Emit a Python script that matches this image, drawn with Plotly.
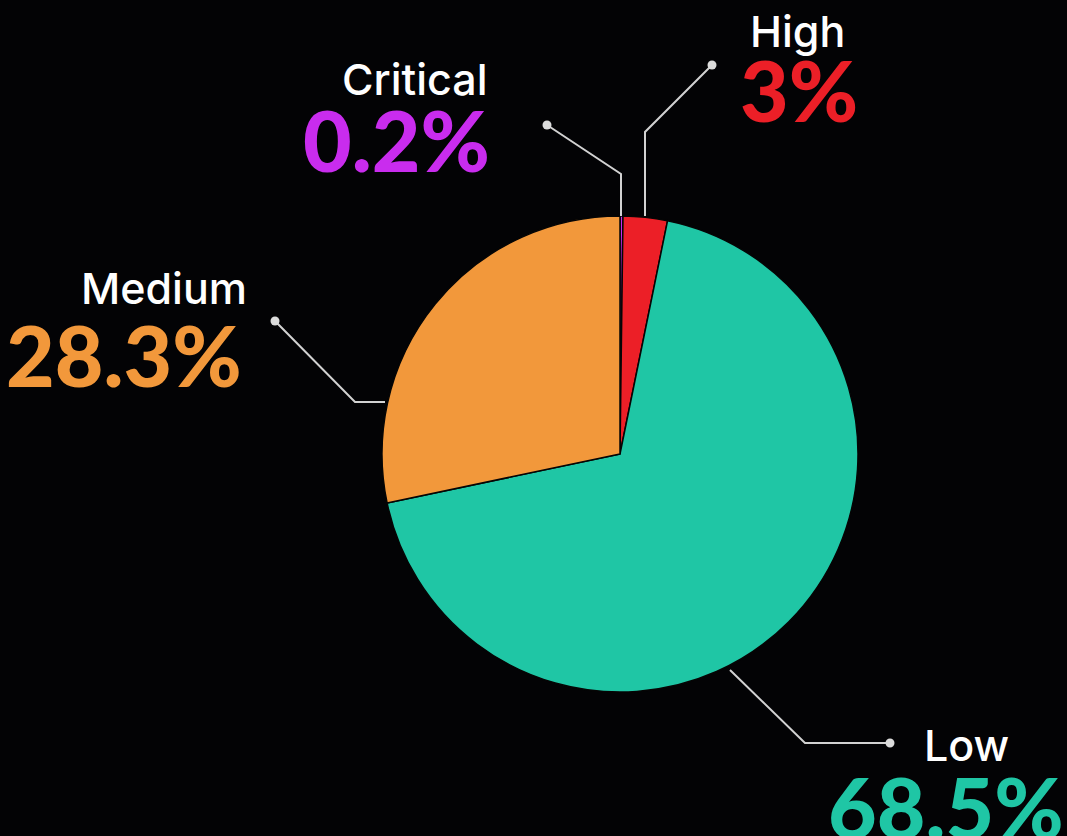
import plotly.graph_objects as go

# Severity breakdown
categories = ["Critical", "High", "Low", "Medium"]
shares = [0.2, 3.0, 68.5, 28.3]
value_labels = ["0.2%", "3%", "68.5%", "28.3%"]
colors = ["#c92cee", "#ec1f27", "#1fc6a5", "#f2983b"]

W, H = 1067, 836
BG = "#030305"
LINE = "#d2d2d2"


def px(x):
    return x / W


def py(y):
    return 1 - y / H


fig = go.Figure(
    go.Pie(
        labels=categories,
        values=shares,
        sort=False,
        direction="clockwise",
        rotation=0,
        marker=dict(colors=colors, line=dict(color="#050505", width=1.5)),
        textinfo="none",
        hoverinfo="label+value",
        showlegend=False,
        domain=dict(x=[px(382), px(858)], y=[py(692), py(216)]),
    )
)

# leader lines (pixel paths) and end dots for each label
leaders = {
    "Critical": [(621, 216), (621, 174), (547, 125)],
    "High": [(645, 216), (645, 132), (712, 65)],
    "Low": [(730, 670), (805, 743), (890, 743)],
    "Medium": [(385, 402), (355, 402), (275, 321)],
}
shapes = []
for name, pts in leaders.items():
    path = "M " + " L ".join(f"{px(x)},{py(y)}" for x, y in pts)
    shapes.append(dict(type="path", xref="paper", yref="paper", path=path,
                       line=dict(color=LINE, width=2)))
    ex, ey = pts[-1]
    r = 4.5
    shapes.append(dict(type="circle", xref="paper", yref="paper",
                       x0=px(ex - r), x1=px(ex + r), y0=py(ey + r), y1=py(ey - r),
                       fillcolor="#dcdcdc", line=dict(width=0)))

# label placement: (name x, name y, anchor, value x, value y, anchor)
placement = {
    "Critical": (490, 79, "right", 492, 139, "right"),
    "High": (797, 31, "center", 799, 90, "center"),
    "Low": (922, 745, "left", 1066, 806, "right"),
    "Medium": (249, 288, "right", 244, 354, "right"),
}

annotations = []
for name, val, col in zip(categories, value_labels, colors):
    nx, ny, na, vx, vy, va = placement[name]
    annotations.append(dict(
        x=px(nx), y=py(ny), xref="paper", yref="paper", text=name,
        showarrow=False, xanchor=na, yanchor="middle",
        font=dict(family="Inter", size=43, color="#ffffff", weight=500)))
    annotations.append(dict(
        x=px(vx), y=py(vy), xref="paper", yref="paper", text=val,
        showarrow=False, xanchor=va, yanchor="middle",
        font=dict(family="Lato", size=84, color=col, weight=900)))

fig.update_layout(
    width=W, height=H,
    margin=dict(l=0, r=0, t=0, b=0),
    paper_bgcolor=BG, plot_bgcolor=BG,
    shapes=shapes, annotations=annotations,
)

fig.write_html("out.html")
